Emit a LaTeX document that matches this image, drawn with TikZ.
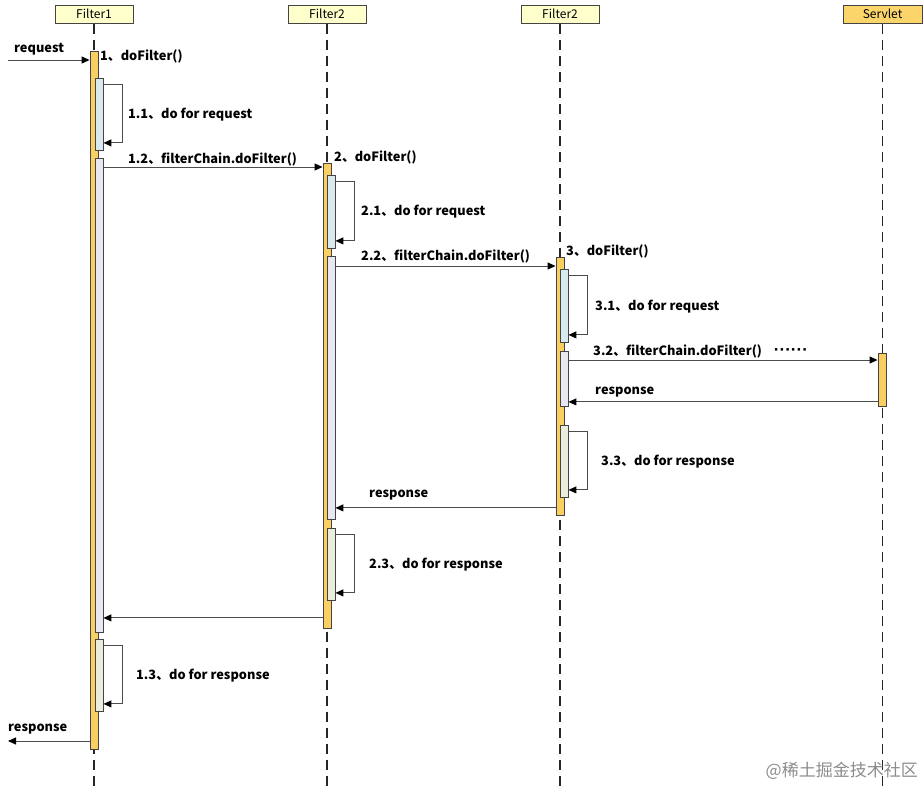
\documentclass[tikz,border=0pt]{standalone}
\usepackage{fontspec}
\setmainfont{Noto Sans CJK SC}
\newfontfamily\dotfont{Liberation Sans}
\usetikzlibrary{arrows.meta}
\definecolor{actcol}{HTML}{F9CF62}
\definecolor{headcol}{HTML}{FFFFCC}
\definecolor{servcol}{HTML}{FBD46A}
\definecolor{reqcol}{HTML}{D8E9EF}
\definecolor{callcol}{HTML}{E9E7F1}
\definecolor{respcol}{HTML}{E8EEDB}
\definecolor{edgecol}{HTML}{444444}
\tikzset{
  head/.style={draw=edgecol,line width=1pt,fill=headcol,minimum width=78,minimum height=18,
    inner sep=0,font=\fontsize{12}{12}\selectfont},
  life/.style={draw=black!85,line width=1.2pt,dash pattern=on 10pt off 6pt},
  act/.style={draw=edgecol,line width=0.9pt,minimum width=8,inner sep=0,anchor=north,fill=actcol},
  msg/.style={draw=black!70,line width=1pt,-{Triangle[length=8pt,width=7pt,color=black]}},
  lbl/.style={anchor=west,inner sep=0,yshift=-2pt,font=\bfseries\fontsize{12.8}{12.8}\selectfont},
}
\newcommand{\actbox}[5]{% name, x, top, bottom, fill
  \node[act,fill=#5,minimum height={(#4)-(#3)}] (#1) at (#2,#3) {};}
\newcommand{\selfloop}[1]{%
  \draw[msg] ([yshift=-6pt]#1.north east) -- ++(19,0) |- ([yshift=8pt]#1.south east);}

\begin{document}
\begin{tikzpicture}[x=1pt,y=-1pt]
  \useasboundingbox (0,0) rectangle (923,788);
  \coordinate (bot) at (0,788);
  % heads and lifelines
  \node[head] (h1) at (94,14) {Filter1};
  \node[head] (h2) at (327,14) {Filter2};
  \node[head] (h3) at (560,14) {Filter2};
  \node[head,fill=servcol,minimum width=79] (h4) at (882.5,14) {Servlet};
  \foreach \h in {h1,h2,h3,h4}
    \draw[life] (\h.south) -- (\h.south |- bot);
  % activations
  \actbox{m1}{94}{51}{749}{actcol}
  \actbox{m2}{327}{163}{628}{actcol}
  \actbox{m3}{560}{257}{515}{actcol}
  \actbox{sv}{882}{353}{406}{actcol}
  \actbox{b11}{99}{78}{150}{reqcol}
  \actbox{b12}{99}{158}{632}{callcol}
  \actbox{b13}{99}{639}{711}{respcol}
  \actbox{b21}{331}{175}{248}{reqcol}
  \actbox{b22}{331}{256}{519}{callcol}
  \actbox{b23}{331}{528}{600}{respcol}
  \actbox{b31}{564}{269}{342}{reqcol}
  \actbox{b32}{564}{351}{406}{callcol}
  \actbox{b33}{564}{425}{497}{respcol}
  % self calls
  \selfloop{b11} \selfloop{b13}
  \selfloop{b21} \selfloop{b23}
  \selfloop{b31} \selfloop{b33}
  % messages
  \coordinate (req) at (8,60);
  \coordinate (out) at (8,741);
  \draw[msg] (req) -- (req -| m1.west);
  \coordinate (c12) at ([yshift=-9pt]b12.north east);
  \draw[msg] (c12) -- (c12 -| m2.west);
  \coordinate (c22) at ([yshift=-10pt]b22.north east);
  \draw[msg] (c22) -- (c22 -| m3.west);
  \coordinate (c32) at ([yshift=-9pt]b32.north east);
  \draw[msg] (c32) -- (c32 -| sv.west);
  \coordinate (r3) at ([yshift=5pt]sv.south west);
  \draw[msg] (r3) -- (r3 -| b32.east);
  \coordinate (r2) at ([yshift=8pt]m3.south west);
  \draw[msg] (r2) -- (r2 -| b22.east);
  \coordinate (r1) at ([yshift=11pt]m2.south west);
  \draw[msg] (r1) -- (r1 -| b12.east);
  \draw[msg] (out -| m1.west) -- (out);
  % labels
  \node[lbl] (t0) at (14,47) {request};
  \node[lbl] (t1) at (100,54) {1、doFilter()};
  \node[lbl] (t11) at (128,113) {1.1、do for request};
  \node[lbl] (t12) at (128,157) {1.2、filterChain.doFilter()};
  \node[lbl] (t2) at (334,155) {2、doFilter()};
  \node[lbl] (t21) at (361,210) {2.1、do for request};
  \node[lbl] (t22) at (361,254) {2.2、filterChain.doFilter()};
  \node[lbl] (t3) at (566,249) {3、doFilter()};
  \node[lbl] (t31) at (595,305) {3.1、do for request};
  \node[lbl] (t32) at (593,349) {3.2、filterChain.doFilter()\hspace{12pt}{\dotfont\fontsize{17}{17}\selectfont······}};
  \node[lbl] (t4) at (595,390) {response};
  \node[lbl] (t33) at (601,460) {3.3、do for response};
  \node[lbl] (t5) at (369,493) {response};
  \node[lbl] (t23) at (369,563) {2.3、do for response};
  \node[lbl] (t13) at (136,674) {1.3、do for response};
  \node[lbl] (t6) at (8,727) {response};
  \node[anchor=east,inner sep=0,text=black!45,font=\fontsize{17}{17}\selectfont] (mark) at (918,771) {@稀土掘金技术社区};
\end{tikzpicture}
\end{document}
